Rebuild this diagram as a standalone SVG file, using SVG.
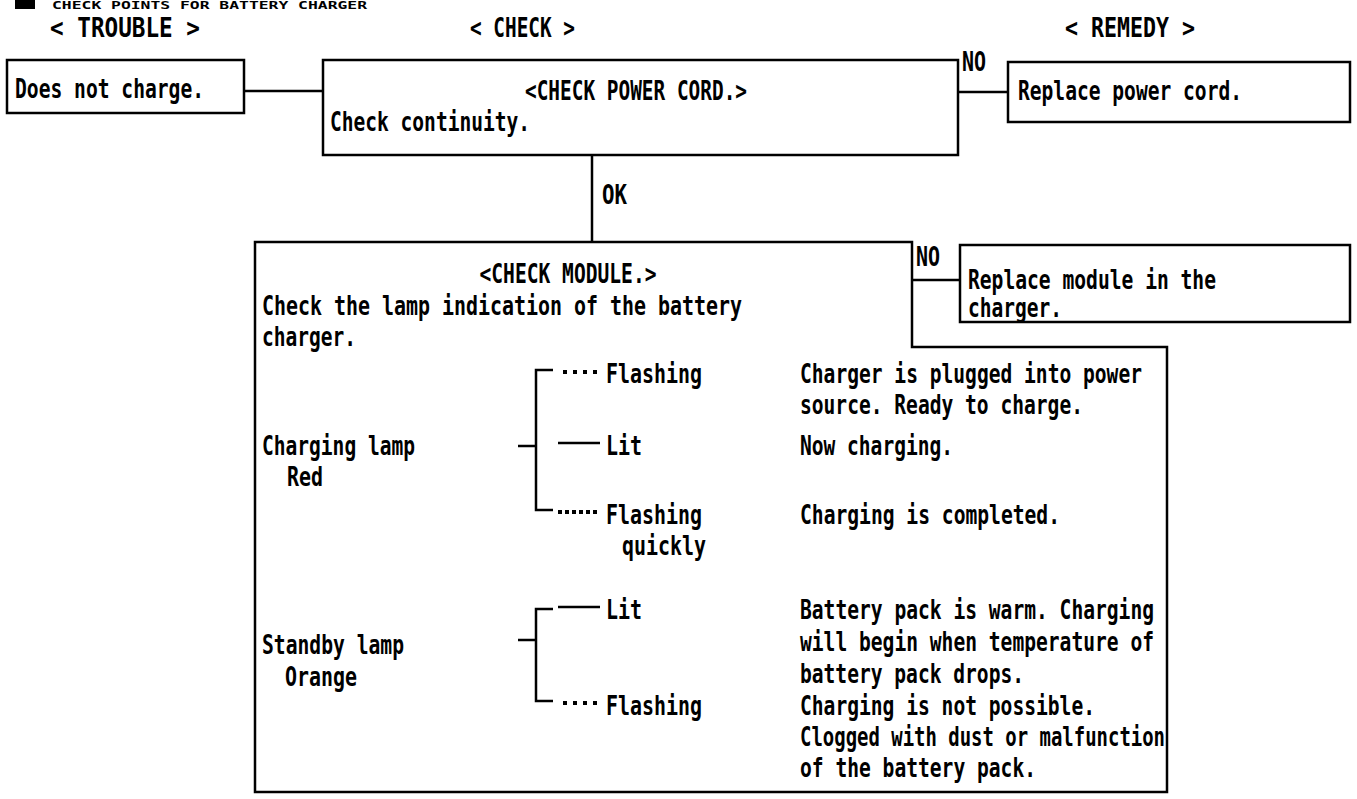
<svg xmlns="http://www.w3.org/2000/svg" width="1357" height="799" viewBox="0 0 1357 799">
<style>
text{font-family:"DejaVu Sans Mono","Liberation Mono",monospace;font-weight:bold;font-size:26px;fill:#000}
text.title{font-size:11px}
.box{fill:none;stroke:#000;stroke-width:2.5}
.ln{fill:none;stroke:#000;stroke-width:2.5}
.dot{fill:none;stroke:#000;stroke-width:4;stroke-dasharray:4 6}
.dotq{fill:none;stroke:#000;stroke-width:4;stroke-dasharray:4 3}
</style>
<rect width="1357" height="799" fill="#fff"/>
<g id="header">
<rect x="15" y="-2" width="20" height="11" fill="#000"/>
<text class="title" x="52" y="9" textLength="315" lengthAdjust="spacingAndGlyphs">CHECK POINTS FOR BATTERY CHARGER</text>
<text x="50" y="37" textLength="150" lengthAdjust="spacingAndGlyphs">&lt; TROUBLE &gt;</text>
<text x="470" y="37" textLength="105" lengthAdjust="spacingAndGlyphs">&lt; CHECK &gt;</text>
<text x="1065" y="37" textLength="130" lengthAdjust="spacingAndGlyphs">&lt; REMEDY &gt;</text>
</g>
<g id="connectors">
<line class="ln" x1="244" y1="91" x2="323" y2="91"/>
<line class="ln" x1="958" y1="92" x2="1008" y2="92"/>
<line class="ln" x1="592" y1="155" x2="592" y2="242"/>
<line class="ln" x1="912" y1="280" x2="960" y2="280"/>
<text x="962" y="71" textLength="24" lengthAdjust="spacingAndGlyphs">NO</text>
<text x="602" y="204" textLength="25" lengthAdjust="spacingAndGlyphs">OK</text>
<text x="916" y="266" textLength="24" lengthAdjust="spacingAndGlyphs">NO</text>
</g>
<g id="trouble">
<rect class="box" x="7" y="60" width="237" height="53"/>
<text x="15" y="98" textLength="189" lengthAdjust="spacingAndGlyphs">Does not charge.</text>
</g>
<g id="check-power-cord">
<rect class="box" x="323" y="60" width="635" height="95"/>
<text x="636" y="100" text-anchor="middle" textLength="222" lengthAdjust="spacingAndGlyphs">&lt;CHECK POWER CORD.&gt;</text>
<text x="330" y="131" textLength="200" lengthAdjust="spacingAndGlyphs">Check continuity.</text>
</g>
<g id="replace-power-cord">
<rect class="box" x="1008" y="62" width="342" height="60"/>
<text x="1018" y="100" textLength="224" lengthAdjust="spacingAndGlyphs">Replace power cord.</text>
</g>
<g id="replace-module">
<rect class="box" x="960" y="245" width="390" height="77"/>
<text x="968" y="289" textLength="248" lengthAdjust="spacingAndGlyphs">Replace module in the</text>
<text x="968" y="317" textLength="94" lengthAdjust="spacingAndGlyphs">charger.</text>
</g>
<g id="check-module">
<path class="box" d="M255 242 H912 V347 H1167 V792 H255 Z"/>
<text x="568" y="283" text-anchor="middle" textLength="177" lengthAdjust="spacingAndGlyphs">&lt;CHECK MODULE.&gt;</text>
<text x="262" y="315" textLength="480" lengthAdjust="spacingAndGlyphs">Check the lamp indication of the battery</text>
<text x="262" y="346" textLength="94" lengthAdjust="spacingAndGlyphs">charger.</text>
<text x="262" y="455" textLength="153" lengthAdjust="spacingAndGlyphs">Charging lamp</text>
<text x="287" y="486" textLength="36" lengthAdjust="spacingAndGlyphs">Red</text>
<path class="ln" d="M518 446 H536 M553 370 H536 V510 H553"/>
<line class="dot" x1="563" y1="372" x2="601" y2="372"/>
<text x="606" y="383" textLength="96" lengthAdjust="spacingAndGlyphs">Flashing</text>
<line class="ln" x1="558" y1="443" x2="600" y2="443"/>
<text x="606" y="455" textLength="36" lengthAdjust="spacingAndGlyphs">Lit</text>
<line class="dotq" x1="558" y1="512" x2="600" y2="512"/>
<text x="606" y="524" textLength="96" lengthAdjust="spacingAndGlyphs">Flashing</text>
<text x="622" y="555" textLength="84" lengthAdjust="spacingAndGlyphs">quickly</text>
<text x="800" y="383" textLength="342" lengthAdjust="spacingAndGlyphs">Charger is plugged into power</text>
<text x="800" y="414" textLength="283" lengthAdjust="spacingAndGlyphs">source. Ready to charge.</text>
<text x="800" y="455" textLength="153" lengthAdjust="spacingAndGlyphs">Now charging.</text>
<text x="800" y="524" textLength="260" lengthAdjust="spacingAndGlyphs">Charging is completed.</text>
<text x="262" y="654" textLength="142" lengthAdjust="spacingAndGlyphs">Standby lamp</text>
<text x="285" y="686" textLength="72" lengthAdjust="spacingAndGlyphs">Orange</text>
<path class="ln" d="M518 640 H536 M553 609 H536 V701 H553"/>
<line class="ln" x1="558" y1="607" x2="600" y2="607"/>
<text x="606" y="619" textLength="36" lengthAdjust="spacingAndGlyphs">Lit</text>
<line class="dot" x1="563" y1="703" x2="601" y2="703"/>
<text x="606" y="715" textLength="96" lengthAdjust="spacingAndGlyphs">Flashing</text>
<text x="800" y="619" textLength="354" lengthAdjust="spacingAndGlyphs">Battery pack is warm. Charging</text>
<text x="800" y="651" textLength="354" lengthAdjust="spacingAndGlyphs">will begin when temperature of</text>
<text x="800" y="683" textLength="224" lengthAdjust="spacingAndGlyphs">battery pack drops.</text>
<text x="800" y="715" textLength="295" lengthAdjust="spacingAndGlyphs">Charging is not possible.</text>
<text x="800" y="746" textLength="365" lengthAdjust="spacingAndGlyphs">Clogged with dust or malfunction</text>
<text x="800" y="777" textLength="236" lengthAdjust="spacingAndGlyphs">of the battery pack.</text>
</g>
</svg>
